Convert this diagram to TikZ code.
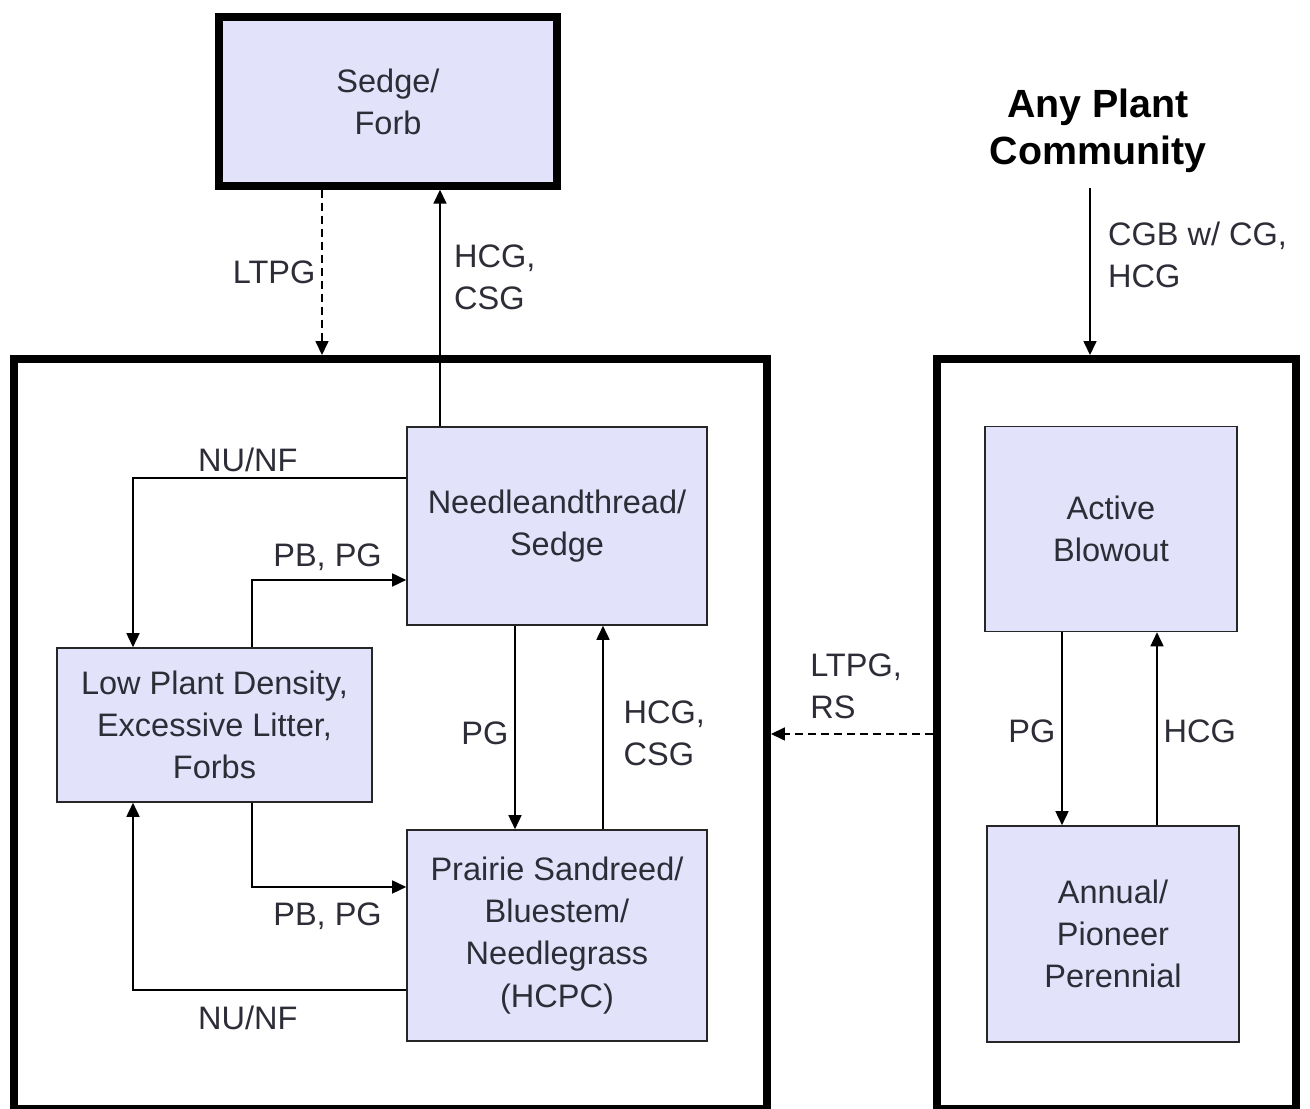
\documentclass[tikz,border=0pt]{standalone}
\usepackage{fontspec}
\setmainfont{Liberation Sans}
\usepackage{tikz}
\usetikzlibrary{arrows.meta,positioning}
\definecolor{boxlilac}{RGB}{226,226,250}
\definecolor{inkgray}{RGB}{45,45,55}

\begin{document}
\begin{tikzpicture}[
    state/.style={rectangle, draw=black!85, line width=0.9pt, fill=boxlilac, align=center,
        text=inkgray, inner sep=0pt, font=\fontsize{18.5}{24}\selectfont},
    phasebox/.style={rectangle, draw=black, line width=4.5pt, inner sep=0pt},
    lbl/.style={font=\fontsize{18.5}{24}\selectfont, text=inkgray, align=left},
    arr/.style={-{Triangle[length=2.8mm, width=2.6mm]}, line width=0.9pt},
    dasharr/.style={arr, dash pattern=on 1.6mm off 1mm}]

    \useasboundingbox (0,0) rectangle (26.2,22.18);

    % Phases
    \node[phasebox, minimum width=15.06cm, minimum height=15cm] (lframe) at (7.81,7.5) {};
    \node[phasebox, minimum width=7.18cm, minimum height=15cm] (rframe) at (22.33,7.5) {};

    % Sedge/Forb
    \node[state, draw=black, line width=4.5pt, minimum width=6.76cm, minimum height=3.37cm] (sedge) at (7.76,20.15) {Sedge/\\Forb};

    % Left phase states
    \node[state, minimum width=6cm, minimum height=3.96cm] (needle) at (11.14,11.66) {Needleandthread/\\Sedge};
    \node[state, minimum width=6.3cm, minimum height=3.08cm] (low) at (4.29,7.68) {Low Plant Density,\\Excessive Litter,\\Forbs};
    \node[state, minimum width=6cm, minimum height=4.22cm] (prairie) at (11.14,3.47) {Prairie Sandreed/\\Bluestem/\\Needlegrass\\(HCPC)};

    % Right phase states
    \node[state, minimum width=5.04cm, minimum height=4.1cm] (active) at (22.22,11.6) {Active\\Blowout};
    \node[state, minimum width=5.04cm, minimum height=4.32cm] (annual) at (22.26,3.5) {Annual/\\Pioneer\\Perennial};

    % Any plant community
    \node[font=\fontsize{22.4}{27}\selectfont\bfseries, align=center] (anyplant) at (21.96,19.56) {Any Plant\\Community};

    % Sedge/Forb links
    \coordinate (ltpgtop) at ([xshift=-1.32cm]sedge.south);
    \draw[dasharr] (ltpgtop) -- node[lbl, midway, left] (ltpglbl) {LTPG} (ltpgtop |- lframe.north);
    \coordinate (hcgtop) at ([xshift=-2.34cm]needle.north);
    \draw[arr] (hcgtop) -- node[lbl, pos=0.63, right, xshift=0.15cm] (hcgcsgtop) {HCG,\\CSG} (hcgtop |- sedge.south);

    % Left phase links
    \draw[arr] ([yshift=0.96cm]needle.west) -| node[lbl, pos=0.29, above] (nunftop) {NU/NF} ([xshift=-1.63cm]low.north);
    \draw[arr] ([xshift=0.75cm]low.north) |- node[lbl, pos=0.745, above, yshift=0.05cm] (pbpgtop) {PB, PG} ([yshift=-1.08cm]needle.west);
    \draw[arr] ([xshift=-0.84cm]needle.south) -- node[lbl, pos=0.53, left] (pgmid) {PG} ([xshift=-0.84cm]prairie.north);
    \draw[arr] ([xshift=0.92cm]prairie.north) -- node[lbl, pos=0.47, right, xshift=0.28cm] (hcgcsgmid) {HCG,\\CSG} ([xshift=0.92cm]needle.south);
    \draw[arr] ([xshift=0.75cm]low.south) |- node[lbl, pos=0.745, below, yshift=-0.19cm] (pbpgbot) {PB, PG} ([yshift=0.97cm]prairie.west);
    \draw[arr] ([yshift=-1.09cm]prairie.west) -| node[lbl, pos=0.29, below, yshift=-0.18cm] (nunfbot) {NU/NF} ([xshift=-1.63cm]low.south);

    % Between phases
    \draw[dasharr] (rframe.west) -- node[lbl, pos=0.475, above, yshift=0.17cm] (ltpgrs) {LTPG,\\RS} (lframe.east);

    % Right phase links
    \coordinate (cgbtop) at (21.8,18.42);
    \draw[arr] (cgbtop) -- node[lbl, pos=0.4, right, xshift=0.23cm] (cgblbl) {CGB w/ CG,\\HCG} (cgbtop |- rframe.north);
    \coordinate (pgright) at ([xshift=-0.98cm]active.south);
    \draw[arr] (pgright) -- node[lbl, pos=0.515, left] (pgrlbl) {PG} (pgright |- annual.north);
    \coordinate (hcgright) at ([xshift=0.88cm]annual.north);
    \draw[arr] (hcgright) -- node[lbl, pos=0.485, right] (hcgrlbl) {HCG} (hcgright |- active.south);
\end{tikzpicture}
\end{document}
